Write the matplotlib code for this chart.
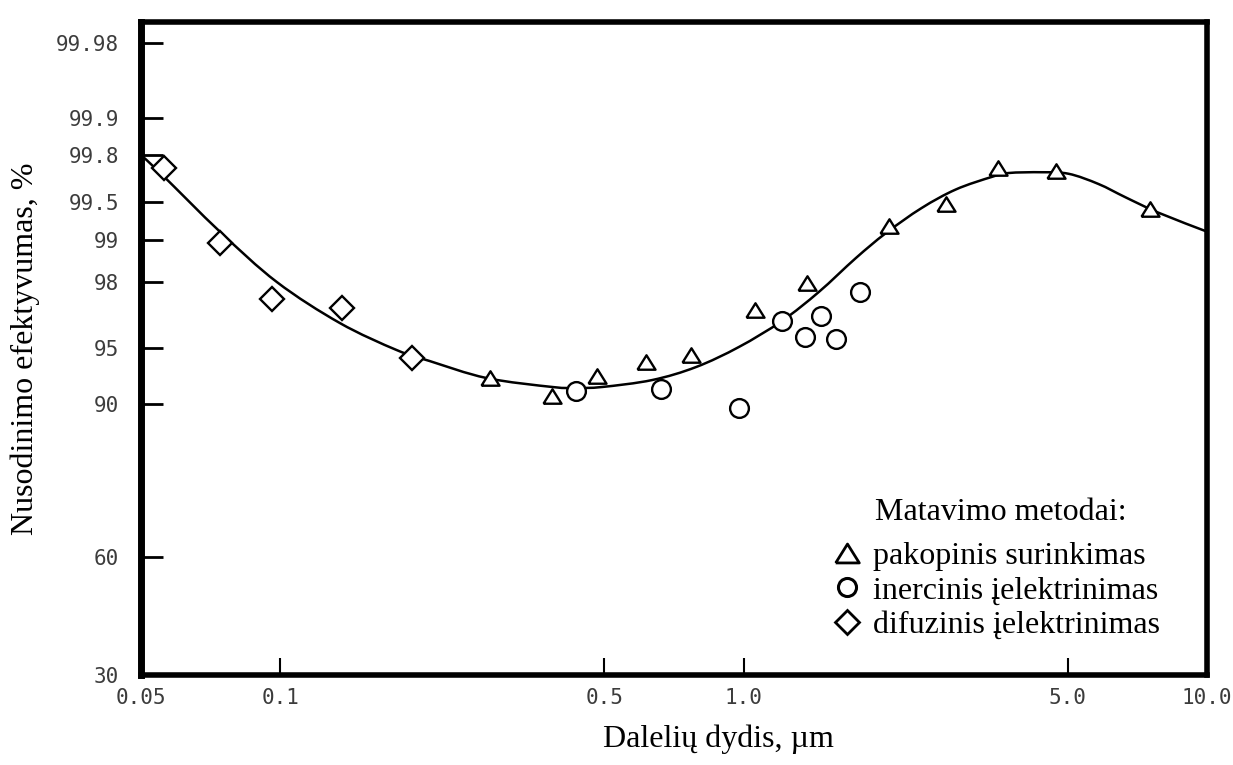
import numpy as np
import matplotlib
matplotlib.use("Agg")
import matplotlib.pyplot as plt
from matplotlib.lines import Line2D
from matplotlib.path import Path
from matplotlib.patches import PathPatch

# ---------------- data ----------------
tri_x = [0.284, 0.386, 0.483, 0.616, 0.770, 1.058, 1.369, 2.057, 2.73, 3.533, 4.71, 7.55]
tri_y = [92.32, 90.71, 92.5, 93.75, 94.38, 96.73, 97.95, 99.18, 99.47, 99.72, 99.70, 99.41]

circ_x = [0.435, 0.663, 0.977, 1.209, 1.356, 1.468, 1.581, 1.781]
circ_y = [91.16, 91.34, 89.22, 96.23, 95.5, 96.45, 95.41, 97.55]

diam_x = [0.0561, 0.0740, 0.0958, 0.1356, 0.1919]
diam_y = [99.72, 98.93, 97.23, 96.82, 94.11]

curve_x = [0.05, 0.0557, 0.0740, 0.0982, 0.1342, 0.1781, 0.2098, 0.2784, 0.386, 0.435,
           0.495, 0.6346, 0.789, 0.977, 1.209, 1.453, 1.746, 2.026, 2.42, 2.87,
           3.43, 3.73, 4.40, 5.03, 5.83, 6.67, 7.85, 10.0]
curve_y = [99.80, 99.67, 99.11, 98.0, 96.14, 94.82, 93.84, 92.32, 91.52, 91.43,
           91.52, 92.14, 93.30, 95.05, 96.23, 97.55, 98.57, 99.09, 99.42, 99.58,
           99.66, 99.685, 99.69, 99.68, 99.615, 99.53, 99.36, 99.11]

x_ticks = [0.05, 0.1, 0.5, 1.0, 5.0, 10.0]
x_tick_labels = ["0.05", "0.1", "0.5", "1.0", "5.0", "10.0"]
y_ticks = [30, 60, 90, 95, 98, 99, 99.5, 99.8, 99.9, 99.98]
y_tick_labels = ["30", "60", "90", "95", "98", "99", "99.5", "99.8", "99.9", "99.98"]

legend_title = "Matavimo metodai:"
series_names = ["pakopinis surinkimas", "inercinis įelektrinimas", "difuzinis įelektrinimas"]
x_label = "Dalelių dydis, µm"
y_label = "Nusodinimo efektyvumas, %"

# probability-paper style axis (grid of the original chart)
prob_grid_values = np.array([30, 60, 90, 95, 98, 99, 99.5, 99.8, 99.9, 99.98, 99.99])
prob_grid_spacing = np.array([0, 118, 271, 327, 393, 435, 473, 520, 557, 632, 662], float)


def prob_forward(v):
    return np.interp(v, prob_grid_values, prob_grid_spacing)


def prob_inverse(p):
    return np.interp(p, prob_grid_spacing, prob_grid_values)


def smooth_path(xs, ys):
    """Catmull-Rom curve through the points, built in the axes' scale space
    and drawn by matplotlib as cubic Bezier segments."""
    u = np.log10(np.asarray(xs, float))
    w = prob_forward(np.asarray(ys, float))
    P = np.column_stack([u, w])
    n = len(P)
    verts = [P[0]]
    codes = [Path.MOVETO]
    for i in range(n - 1):
        p0 = P[max(i - 1, 0)]
        p1 = P[i]
        p2 = P[i + 1]
        p3 = P[min(i + 2, n - 1)]
        c1 = p1 + (p2 - p0) / 6.0
        c2 = p2 - (p3 - p1) / 6.0
        verts += [c1, c2, p2]
        codes += [Path.CURVE4] * 3
    V = np.array(verts)
    V[:, 0] = 10 ** V[:, 0]
    V[:, 1] = prob_inverse(V[:, 1])
    return Path(V, codes)


# ---------------- figure ----------------
W, H = 1233, 765
fig = plt.figure(figsize=(W / 100, H / 100), dpi=100)
L, R, T, B = 141, 1207, 22, 675
ax = fig.add_axes([L / W, (H - B) / H, (R - L) / W, (B - T) / H])

ax.set_xscale("log")
ax.set_yscale("function", functions=(prob_forward, prob_inverse))
ax.set_xlim(0.05, 10.0)
ax.set_ylim(30, 99.987)

serif = ["Liberation Serif", "DejaVu Serif"]
mono = ["DejaVu Sans Mono"]
fs = 23

curve = PathPatch(smooth_path(curve_x, curve_y), facecolor="none", edgecolor="black",
                  lw=1.8, zorder=2, transform=ax.transData)
ax.add_patch(curve)

tri_marker = [(-1, -0.8), (1, -0.8), (0, 0.8), (-1, -0.8)]
ax.plot(tri_x, tri_y, linestyle="none", marker=tri_marker, ms=13, mfc="white",
        mec="black", mew=1.7, zorder=3)
ax.plot(circ_x, circ_y, linestyle="none", marker="o", ms=13.5, mfc="white",
        mec="black", mew=1.7, zorder=3)
ax.plot(diam_x, diam_y, linestyle="none", marker="D", ms=12.5, mfc="white",
        mec="black", mew=1.7, zorder=3)

# ticks
ax.set_xticks(x_ticks)
ax.set_xticklabels(x_tick_labels)
ax.xaxis.set_minor_locator(matplotlib.ticker.NullLocator())
ax.set_yticks(y_ticks)
ax.set_yticklabels(y_tick_labels)
ax.yaxis.set_minor_locator(matplotlib.ticker.NullLocator())

ax.tick_params(axis="y", direction="in", length=16, width=2.0, pad=16,
               labelsize=15, labelcolor="#3c3c3c")
ax.tick_params(axis="x", direction="in", length=12, width=1.5, pad=9,
               labelsize=15, labelcolor="#3c3c3c")
for lab in ax.get_xticklabels() + ax.get_yticklabels():
    lab.set_family(mono)

for s in ax.spines.values():
    s.set_linewidth(4.0)
ax.spines["left"].set_linewidth(5.0)

# axis labels
ax.set_xlabel(x_label, fontsize=fs, family=serif)
ax.xaxis.set_label_coords((718 - L) / (R - L), -(724 - B) / (B - T))
ax.set_ylabel(y_label, fontsize=fs, family=serif)
ax.yaxis.set_label_coords((40 - L) / (R - L), 0.5)

# legend
handles = [
    Line2D([], [], linestyle="none", marker=tri_marker, ms=17, mfc="white", mec="black", mew=2.0),
    Line2D([], [], linestyle="none", marker="o", ms=13, mfc="white", mec="black", mew=2.2),
    Line2D([], [], linestyle="none", marker="D", ms=12.5, mfc="white", mec="black", mew=2.0),
]
leg = ax.legend(handles, series_names, loc="lower right",
                bbox_to_anchor=(1160 / W, (H - 640) / H), bbox_transform=fig.transFigure,
                frameon=False, borderpad=0, borderaxespad=0, handlelength=0.8,
                handletextpad=0.42, labelspacing=0.16, numpoints=1,
                prop={"family": serif, "size": fs})
fig.text(1001 / W, (H - 512) / H, legend_title, ha="center", va="center",
         fontsize=fs, family=serif)

fig.savefig("out.png", dpi=100, facecolor="white")
